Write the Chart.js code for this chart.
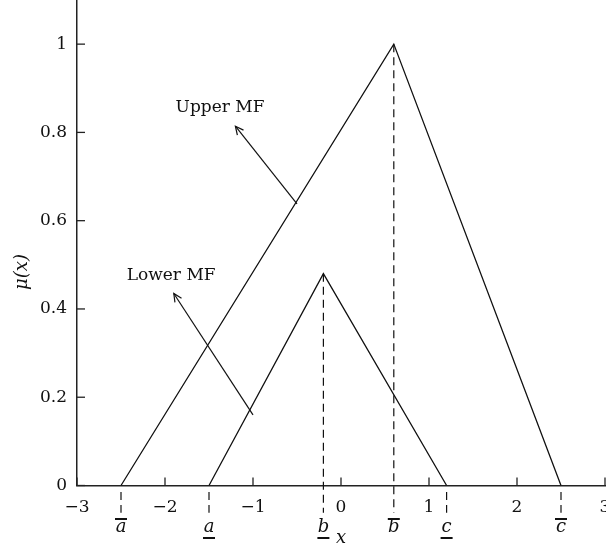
<!DOCTYPE html>
<html>
<head>
<meta charset="utf-8">
<script src="https://cdn.jsdelivr.net/npm/chart.js@4.4.0/dist/chart.umd.min.js"></script>
<style>
html,body{margin:0;padding:0;background:#fff;}
</style>
</head>
<body>
<canvas id="mfChart" width="606" height="550"></canvas>
<script>
// triangle vertices of the two membership functions
const upperX = [-2.5, 0.6, 2.5];
const upperY = [0, 1, 0];
const lowerX = [-1.5, -0.2, 1.2];
const lowerY = [0, 0.48, 0];

// letters under the axis, one per vertex
const vertexNames = ["a", "a", "b", "b", "c", "c"];
const vertexX = [-2.5, -1.5, -0.2, 0.6, 1.2, 2.5];
const vertexMark = ["over", "under", "under", "over", "under", "over"];

// annotations: text position, arrow tail, arrow head
const noteText = ["Upper MF", "Lower MF"];
const noteAt = [[-1.375, 0.857], [-1.93, 0.476]];
const arrowFrom = [[-0.5, 0.638], [-1.0, 0.16]];
const arrowTo = [[-1.2, 0.814], [-1.9, 0.435]];

const xTicks = [-3, -2, -1, 0, 1, 2, 3];
const yTicks = [0, 0.2, 0.4, 0.6, 0.8, 1];

const SERIF = '"DejaVu Serif", serif';
const INK = "#111";

// dashed guides: from the peak (or just under the axis) down below the axis
function guide(x, top){
    return {data:[{x:x, y:top}, {x:x, y:-0.062}], borderColor:INK, borderWidth:1.2,
        borderDash:[8,5], pointRadius:0, clip:false};
}
let datasets = [
    {data: upperX.map((x,i)=>({x:x, y:upperY[i]})), borderColor:INK, borderWidth:1.3, pointRadius:0},
    {data: lowerX.map((x,i)=>({x:x, y:lowerY[i]})), borderColor:INK, borderWidth:1.3, pointRadius:0}
];
upperX.forEach((x,i)=>datasets.push(guide(x, upperY[i]>0 ? upperY[i] : -0.015)));
lowerX.forEach((x,i)=>datasets.push(guide(x, lowerY[i]>0 ? lowerY[i] : -0.015)));
arrowFrom.forEach((p,i)=>datasets.push({
    data:[{x:p[0], y:p[1]}, {x:arrowTo[i][0], y:arrowTo[i][1]}],
    borderColor:INK, borderWidth:1.2, pointRadius:0
}));

// inside ticks, arrow heads, labels
const extras = {
    id:"extras",
    afterDraw(chart){
        const ctx = chart.ctx, xs = chart.scales.x, ys = chart.scales.y, area = chart.chartArea;
        ctx.save();
        ctx.strokeStyle = "#222"; ctx.lineWidth = 1.3;
        xTicks.forEach(v=>{
            let px = xs.getPixelForValue(v);
            ctx.beginPath(); ctx.moveTo(px, area.bottom); ctx.lineTo(px, area.bottom-8); ctx.stroke();
        });
        yTicks.forEach(v=>{
            let py = ys.getPixelForValue(v);
            ctx.beginPath(); ctx.moveTo(area.left, py); ctx.lineTo(area.left+8, py); ctx.stroke();
        });

        // arrow heads
        ctx.strokeStyle = INK; ctx.lineWidth = 1.2;
        arrowTo.forEach((h,i)=>{
            let hx = xs.getPixelForValue(h[0]), hy = ys.getPixelForValue(h[1]);
            let tx = xs.getPixelForValue(arrowFrom[i][0]), ty = ys.getPixelForValue(arrowFrom[i][1]);
            let ang = Math.atan2(ty-hy, tx-hx);
            ctx.beginPath();
            ctx.moveTo(hx + 9*Math.cos(ang-0.45), hy + 9*Math.sin(ang-0.45));
            ctx.lineTo(hx, hy);
            ctx.lineTo(hx + 9*Math.cos(ang+0.45), hy + 9*Math.sin(ang+0.45));
            ctx.stroke();
        });

        ctx.fillStyle = INK;
        ctx.textAlign = "center"; ctx.textBaseline = "middle";
        ctx.font = "17px " + SERIF;
        noteText.forEach((t,i)=>{
            ctx.fillText(t, xs.getPixelForValue(noteAt[i][0]), ys.getPixelForValue(noteAt[i][1]));
        });

        // vertex letters with over/under bars
        ctx.font = "italic 18px " + SERIF;
        vertexNames.forEach((n,i)=>{
            let px = xs.getPixelForValue(vertexX[i]);
            let py = area.bottom + 42;
            ctx.fillText(n, px, py);
            let by = vertexMark[i]==="over" ? py-8.5 : py+10.5;
            ctx.fillRect(px-6, by-1, 12, 2);
        });
        ctx.fillText("x", xs.getPixelForValue(0), area.bottom + 53);

        ctx.translate(22, 272);
        ctx.rotate(-Math.PI/2);
        ctx.fillText("\u03bc(x)", 0, 0);
        ctx.restore();
    }
};

new Chart(document.getElementById("mfChart"), {
    type:"line",
    data:{datasets:datasets},
    options:{
        responsive:false,
        animation:false,
        layout:{padding:{right:1}},
        plugins:{legend:{display:false}, tooltip:{enabled:false}},
        scales:{
            x:{
                type:"linear", min:-3, max:3,
                grid:{display:false, drawTicks:false},
                border:{color:"#222", width:1.5},
                ticks:{color:INK, padding:12, font:{family:SERIF, size:17},
                    callback:v=>String(v).replace("-", "\u2212")},
                afterBuildTicks:s=>{ s.ticks = xTicks.map(v=>({value:v})); },
                afterFit:s=>{ s.height = 64.5; s.paddingLeft = 0; s.paddingRight = 0; }
            },
            y:{
                type:"linear", min:0, max:1.1,
                grid:{display:false, drawTicks:false},
                border:{color:"#222", width:1.5},
                ticks:{color:INK, padding:10, font:{family:SERIF, size:17},
                    callback:v=>String(Math.round(v*10)/10)},
                afterBuildTicks:s=>{ s.ticks = yTicks.map(v=>({value:v})); },
                afterFit:s=>{ s.width = 77; s.paddingTop = 0; s.paddingBottom = 0; }
            }
        }
    },
    plugins:[extras]
});
</script>
</body>
</html>
